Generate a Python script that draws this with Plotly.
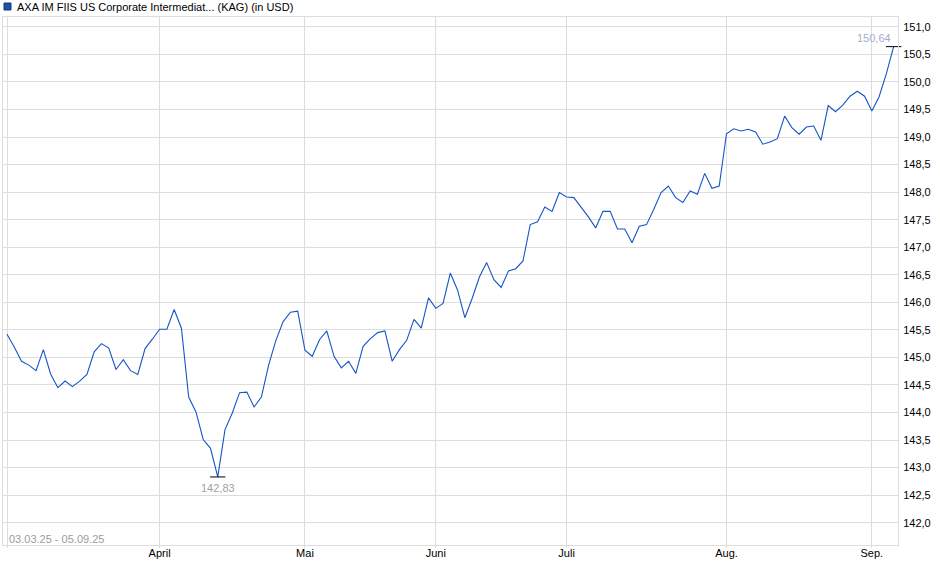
import numpy as np
import plotly.graph_objects as go

# ---- data ----
month_labels = ["", "April", "Mai", "Juni", "Juli", "Aug.", "Sep."]
month_counts = [21, 20, 18, 18, 22, 20, 4]   # trading points per month (Mar..Sep)

prices = [
    145.42, 145.19, 144.93, 144.86, 144.76, 145.14, 144.70, 144.45, 144.57, 144.47,
    144.57, 144.69, 145.10, 145.25, 145.17, 144.78, 144.96, 144.76, 144.69, 145.16,
    145.33,
    145.51, 145.51, 145.87, 145.53, 144.28, 144.01, 143.51, 143.35, 142.83, 143.69,
    143.99, 144.36, 144.37, 144.10, 144.28, 144.86, 145.31, 145.65, 145.82, 145.84,
    145.13, 145.02, 145.32, 145.48, 145.02, 144.81, 144.93, 144.71, 145.20, 145.34,
    145.45, 145.48, 144.93, 145.14, 145.31, 145.69, 145.53, 146.08,
    145.89, 145.98, 146.53, 146.22, 145.72, 146.07, 146.46, 146.72, 146.41, 146.27,
    146.57, 146.61, 146.75, 147.41, 147.46, 147.73, 147.65, 147.99,
    147.91, 147.90, 147.73, 147.55, 147.35, 147.65, 147.65, 147.33, 147.33, 147.08,
    147.38, 147.41, 147.69, 147.99, 148.11, 147.90, 147.81, 148.02, 147.96, 148.34,
    148.07, 148.11,
    149.06, 149.15, 149.11, 149.14, 149.09, 148.87, 148.91, 148.97, 149.38, 149.17,
    149.05, 149.18, 149.20, 148.94, 149.57, 149.46, 149.58, 149.74, 149.83, 149.74,
    149.47, 149.73, 150.15, 150.64,
]
title_text = "AXA IM FIIS US Corporate Intermediat... (KAG) (in USD)"
period_text = "03.03.25 - 05.09.25"

# ---- derived ----
x = list(range(len(prices)))
tickvals = [int(v) for v in np.cumsum([0] + month_counts[:-1])]
i_min = int(np.argmin(prices))
i_max = int(np.argmax(prices))


def de(v):
    return f"{v:.2f}".replace(".", ",")


FONT = "Liberation Sans, Arial, sans-serif"
W, H = 940, 579
ML, MR, MT, MB = 3, 42, 17, 34
PW, PH = W - ML - MR, H - MT - MB

fig = go.Figure()
fig.add_trace(go.Scatter(
    x=x, y=prices, mode="lines",
    line=dict(color="#1655c4", width=1.1),
    hoverinfo="skip", showlegend=False,
))
fig.add_trace(go.Scatter(
    x=[i_min, i_max], y=[prices[i_min], prices[i_max]], mode="markers",
    marker=dict(symbol="line-ew", size=11, line=dict(color="#000000", width=1)),
    hoverinfo="skip", showlegend=False, cliponaxis=False,
))

annotations = [
    dict(text=title_text, xref="paper", yref="paper",
         x=(15 - ML) / PW, y=1 + (MT - 6.5) / PH, xanchor="left", yanchor="middle",
         showarrow=False, font=dict(family=FONT, size=11, color="#000000")),
    dict(text=period_text, xref="paper", yref="paper",
         x=(7 - ML) / PW, y=(545 - 539) / PH,
         xanchor="left", yanchor="middle",
         showarrow=False, font=dict(family=FONT, size=11, color="#a09c98")),
    dict(text=de(prices[i_min]), x=i_min, y=prices[i_min], xref="x", yref="y",
         yshift=-11, xanchor="center", yanchor="middle", showarrow=False,
         font=dict(family=FONT, size=11, color="#a0a0a4")),
    dict(text=de(prices[i_max]), x=i_max, y=prices[i_max], xref="x", yref="y",
         yshift=9, xshift=-1, xanchor="right", yanchor="middle", showarrow=False,
         font=dict(family=FONT, size=11, color="#9fb0c8")),
]

shapes = [
    dict(type="rect", xref="paper", yref="paper",
         x0=(4 - ML) / PW, x1=(11 - ML) / PW,
         y0=1 + (MT - 10) / PH, y1=1 + (MT - 3) / PH,
         fillcolor="#1f4fa8", line=dict(color="#15397a", width=1)),
]

fig.update_layout(
    width=W, height=H,
    margin=dict(l=ML, r=MR, t=MT, b=MB, pad=0, autoexpand=False),
    paper_bgcolor="white", plot_bgcolor="white",
    separators=",.",
    hovermode=False,
    annotations=annotations,
    shapes=shapes,
    font=dict(family=FONT, size=11, color="#000000"),
    xaxis=dict(
        range=[-0.55, 122.6], tickmode="array", tickvals=tickvals, ticktext=month_labels,
        showgrid=True, gridcolor="#dddddd", gridwidth=1,
        showline=True, linecolor="#dddddd", linewidth=1, mirror=True,
        zeroline=False, ticks="outside", ticklen=2, tickcolor="#dddddd",
        ticklabelstandoff=-4,
        tickfont=dict(family=FONT, size=11, color="#000000"),
        fixedrange=True, automargin=False,
    ),
    yaxis=dict(
        side="right", range=[141.595, 151.178], tick0=142, dtick=0.5, tickformat=".1f",
        showgrid=True, gridcolor="#dddddd", gridwidth=1,
        showline=True, linecolor="#dddddd", linewidth=1, mirror=True,
        zeroline=False, ticks="outside", ticklen=2, tickcolor="rgba(0,0,0,0)",
        tickfont=dict(family=FONT, size=11, color="#000000"),
        fixedrange=True, automargin=False,
    ),
)

fig.write_html(
    "out.html",
    config={"displayModeBar": False},
    post_script="document.body.style.margin='0';document.body.style.padding='0';",
)
